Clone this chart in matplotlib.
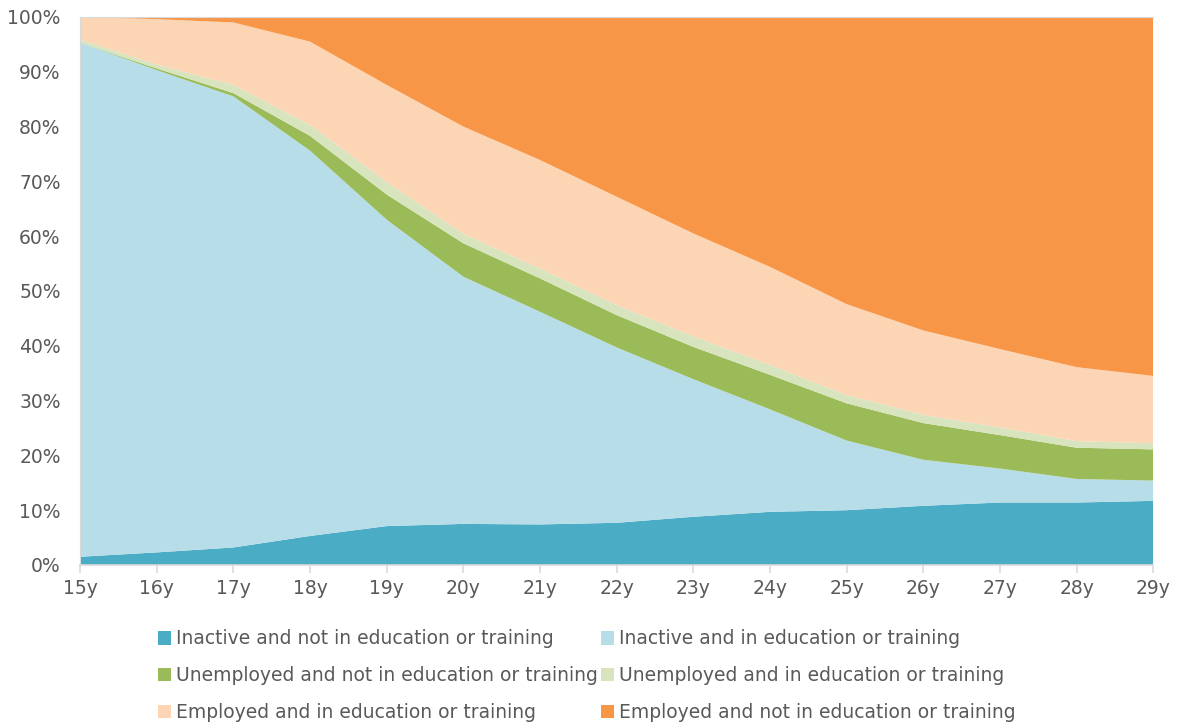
import numpy as np
import matplotlib
matplotlib.use("Agg")
import matplotlib.pyplot as plt
from matplotlib.patches import Patch

# — DATA (shares in %) —
ages = ["15y", "16y", "17y", "18y", "19y", "20y", "21y", "22y",
        "23y", "24y", "25y", "26y", "27y", "28y", "29y"]

inactive_not_edu = [1.5, 2.3, 3.2, 5.3, 7.1, 7.5, 7.4, 7.7, 8.8, 9.7, 10.0, 10.8, 11.4, 11.4, 11.7]
inactive_in_edu  = [93.8, 88.0, 82.3, 70.3, 55.9, 45.1, 38.8, 32.0, 25.1, 18.7, 12.7, 8.4, 6.2, 4.3, 3.7]
unemp_not_edu    = [0.0, 0.3, 0.6, 2.7, 4.6, 6.1, 6.1, 5.9, 5.9, 6.3, 6.8, 6.7, 6.1, 5.7, 5.7]
unemp_in_edu     = [0.6, 0.7, 1.5, 2.0, 2.3, 1.7, 1.8, 1.8, 1.9, 1.8, 1.5, 1.5, 1.4, 1.2, 1.1]
emp_in_edu       = [4.1, 8.3, 11.4, 15.2, 17.7, 19.6, 19.8, 19.8, 18.8, 17.9, 16.6, 15.4, 14.3, 13.5, 12.3]
emp_not_edu      = [0.0, 0.4, 1.0, 4.5, 12.4, 20.0, 26.1, 32.8, 39.5, 45.6, 52.4, 57.2, 60.6, 63.9, 65.5]

labels = ["Inactive and not in education or training",
          "Inactive and in education or training",
          "Unemployed and not in education or training",
          "Unemployed and in education or training",
          "Employed and in education or training",
          "Employed and not in education or training"]
colors = ["#4bacc6", "#b7dde8", "#9bbb59", "#d7e4bd", "#fcd5b5", "#f79646"]

TXT = "#595959"
plt.rcParams['font.family'] = ['DejaVu Sans']

series = [inactive_not_edu, inactive_in_edu, unemp_not_edu,
          unemp_in_edu, emp_in_edu, emp_not_edu]
data = np.array(series, dtype=float)
data = data / data.sum(axis=0) * 100   # normalise to 100% stacked

x = np.arange(len(ages))

fig = plt.figure(figsize=(11.78, 7.25), dpi=100)
ax = fig.add_axes([0.068, 0.2207, 0.911, 0.7559])

ax.stackplot(x, data, colors=colors, linewidth=0, zorder=2)

ax.set_xlim(0, len(ages) - 1)
ax.set_ylim(0, 100)
ax.set_yticks(range(0, 101, 10))
ax.set_yticklabels([f"{v}%" for v in range(0, 101, 10)])
ax.set_xticks(x)
ax.set_xticklabels(ages)

ax.tick_params(axis='y', length=0, pad=14, labelsize=13.5, colors=TXT)
ax.tick_params(axis='x', length=6, width=1.2, color="#d9d9d9", pad=4,
               labelsize=13.5, labelcolor=TXT)

ax.spines["right"].set_visible(False)
for s in ["left", "top", "bottom"]:
    ax.spines[s].set_color("#d9d9d9")
ax.spines["left"].set_linewidth(0.8)
ax.spines["top"].set_linewidth(0.8)
ax.spines["bottom"].set_linewidth(1.2)

# legend: 2 columns, row-major order as in the original
handles = [Patch(facecolor=c, edgecolor='none') for c in colors]
order = [0, 2, 4, 1, 3, 5]
fig.legend([handles[i] for i in order], [labels[i] for i in order],
           ncol=2, loc='upper center', bbox_to_anchor=(0.498, 0.155),
           frameon=False, fontsize=13.5, labelcolor=TXT,
           handlelength=0.7, handleheight=0.7, handletextpad=0.25,
           columnspacing=0.2, labelspacing=0.95)

fig.savefig("out.png", dpi=100)
